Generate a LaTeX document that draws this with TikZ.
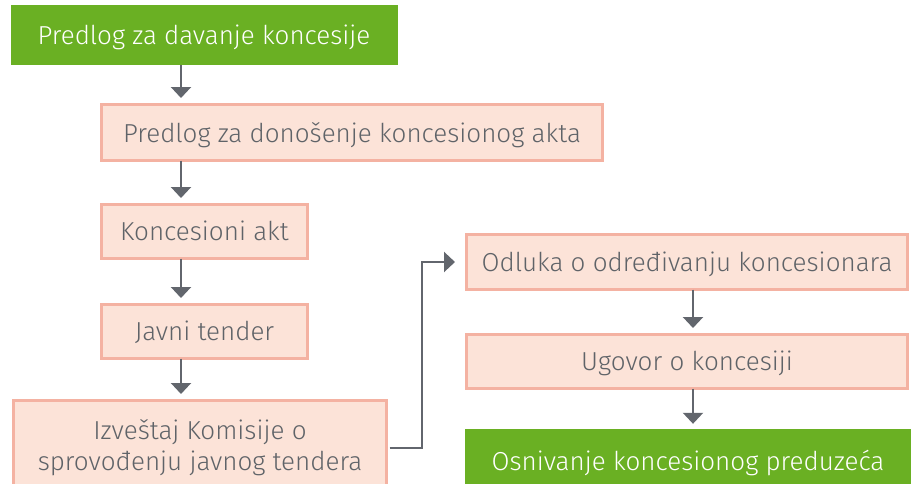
\documentclass[tikz,border=0pt]{standalone}
\usepackage{fontspec}
\setmainfont{Fira Sans}[UprightFont=* Light]
\usetikzlibrary{arrows.meta}
\definecolor{grn}{HTML}{6AB023}
\definecolor{pnkfill}{HTML}{FCE3D8}
\definecolor{pnkline}{HTML}{F4B2A2}
\definecolor{txt}{HTML}{5F6368}
\definecolor{arrc}{HTML}{62666D}
\tikzset{
  greenbox/.style={fill=grn, draw=none, text=white, inner sep=0pt, align=center, font=\fontsize{26}{31}\selectfont},
  pinkbox/.style={fill=pnkfill, draw=pnkline, line width=3pt, text=txt, inner sep=0pt, align=center, font=\fontsize{26}{31}\selectfont},
  oneline/.style={text depth=1pt},
  arr/.style={draw=arrc, line width=2.2pt, -{Triangle[width=20pt,length=11pt]}, shorten >=5pt},
}
\begin{document}
\begin{tikzpicture}[x=1pt,y=-1pt]
\useasboundingbox (0,0) rectangle (911,483);
\node[greenbox, oneline, minimum width=387pt, minimum height=60pt] (n1) at (204,35) {Predlog za davanje koncesije};
\node[pinkbox, oneline, minimum width=501pt, minimum height=56pt] (n2) at (352,132.5) {Predlog za donošenje koncesionog akta};
\node[pinkbox, oneline, minimum width=206pt, minimum height=54pt] (n3) at (204.5,231.5) {Koncesioni akt};
\node[pinkbox, oneline, minimum width=206pt, minimum height=54pt] (n4) at (204.5,331.5) {Javni tender};
\node[pinkbox, minimum width=373pt, minimum height=95pt] (n5) at (200,448) {Izveštaj Komisije o\\sprovođenju javnog tendera};
\node[pinkbox, oneline, minimum width=441pt, minimum height=55pt] (n6) at (687,262) {Odluka o određivanju koncesionara};
\node[pinkbox, oneline, minimum width=441pt, minimum height=54pt] (n7) at (687,361.5) {Ugovor o koncesiji};
\node[greenbox, oneline, minimum width=446pt, minimum height=64pt] (n8) at (688,461) {Osnivanje koncesionog preduzeća};
\coordinate (lx) at (181,0);
\coordinate (rx) at (693,0);
\coordinate (ex) at (422,0);
\draw[arr] (n1.south -| lx) -- (n2.north -| lx);
\draw[arr] ([yshift=1.5pt]n2.south -| lx) -- (n3.north -| lx);
\draw[arr] ([yshift=1.5pt]n3.south -| lx) -- (n4.north -| lx);
\draw[arr] ([yshift=1.5pt]n4.south -| lx) -- (n5.north -| lx);
\draw[arr] ([yshift=1.5pt]n6.south -| rx) -- (n7.north -| rx);
\draw[arr] ([yshift=1.5pt]n7.south -| rx) -- (n8.north -| rx);
\draw[arr, shorten >=10pt] ([xshift=1.5pt]n5.east) -- (n5.east -| ex) -- (n6.west -| ex) -- (n6.west);
\end{tikzpicture}
\end{document}
